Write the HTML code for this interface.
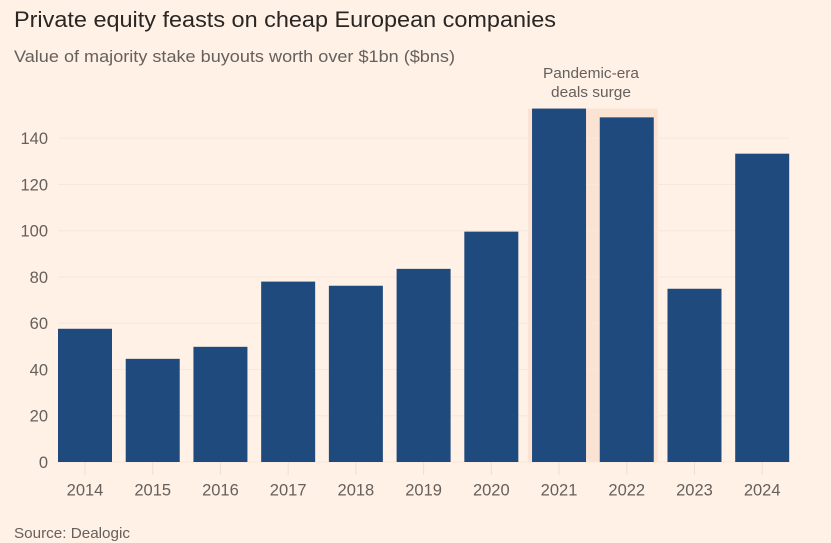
<!DOCTYPE html>
<html>
<head>
<meta charset="utf-8">
<title>Private equity feasts on cheap European companies</title>
<style>
html,body{margin:0;padding:0;background:#fff1e5;}
svg{display:block;font-family:"Liberation Sans",sans-serif;filter:blur(0.35px);}
</style>
</head>
<body>
<svg id="chart" width="831" height="543" viewBox="0 0 831 543" xmlns="http://www.w3.org/2000/svg">
  <rect x="0" y="0" width="831" height="543" fill="#fff1e5"/>
  <text x="14" y="27" font-size="22" fill="#2a2624" textLength="542" lengthAdjust="spacingAndGlyphs">Private equity feasts on cheap European companies</text>
  <text x="14" y="62" font-size="16.5" fill="#66605c" textLength="441" lengthAdjust="spacingAndGlyphs">Value of majority stake buyouts worth over $1bn ($bns)</text>
  <g id="highlight-layer"></g>
  <g id="grid-layer"></g>
  <g id="tick-layer"></g>
  <g id="bar-layer"></g>
  <text x="591" y="78" font-size="14.5" fill="#66605c" text-anchor="middle" textLength="96" lengthAdjust="spacingAndGlyphs">Pandemic-era</text>
  <text x="591" y="97" font-size="14.5" fill="#66605c" text-anchor="middle" textLength="80" lengthAdjust="spacingAndGlyphs">deals surge</text>
  <text x="14" y="538" font-size="15" fill="#66605c" textLength="116" lengthAdjust="spacingAndGlyphs">Source: Dealogic</text>
</svg>
<script>
const categories = ['2014','2015','2016','2017','2018','2019','2020','2021','2022','2023','2024'];
const dealValues = [57.6,44.6,49.8,78,76.2,83.5,99.6,152.8,149,74.9,133.3];
const yTicks = [0,20,40,60,80,100,120,140];
const highlightYears = ['2021','2022'];

const NS = 'http://www.w3.org/2000/svg';
const plot = {left:58, right:790, base:462, unit:2.313, step:67.72, first:85, barWidth:54, bandPad:4};
function yScale(v){ return plot.base - v * plot.unit; }
function xScale(i){ return plot.first + i * plot.step; }
function make(tag, attrs, parent){
  const el = document.createElementNS(NS, tag);
  Object.keys(attrs).forEach(function(k){ el.setAttribute(k, attrs[k]); });
  parent.appendChild(el);
  return el;
}
const highlightLayer = document.getElementById('highlight-layer');
const gridLayer = document.getElementById('grid-layer');
const tickLayer = document.getElementById('tick-layer');
const barLayer = document.getElementById('bar-layer');

const hlIdx = highlightYears.map(function(y){ return categories.indexOf(y); });
const hlTop = yScale(Math.max.apply(null, hlIdx.map(function(i){ return dealValues[i]; })));
const hlLeft = xScale(hlIdx[0]) - plot.barWidth / 2 - plot.bandPad;
const hlRight = xScale(hlIdx[hlIdx.length - 1]) + plot.barWidth / 2 + plot.bandPad;
const band = make('rect', {x:hlLeft, y:hlTop, width:hlRight - hlLeft, height:plot.base - hlTop, fill:'#fbe3d3'}, highlightLayer);



yTicks.forEach(function(t){
  const y = yScale(t);
  const line = make('line', {x1:plot.left, x2:plot.right, y1:y, y2:y, stroke:'#f8e8dc', 'stroke-width':1}, gridLayer);
  
  
  const label = make('text', {x:48, y:y + 6, 'text-anchor':'end', 'font-size':16.5, fill:'#66605c'}, tickLayer);
  
  
  label.textContent = String(t);
});

categories.forEach(function(c, i){
  const x = xScale(i);
  const tick = make('line', {x1:x, x2:x, y1:plot.base, y2:plot.base + 13, stroke:'#ecdfd4', 'stroke-width':1}, tickLayer);
  
  
  const label = make('text', {x:x, y:495.5, 'text-anchor':'middle', 'font-size':16.5, fill:'#66605c'}, tickLayer);
  
  
  label.textContent = c;
  const top = yScale(dealValues[i]);
  const bar = make('rect', {x:x - plot.barWidth / 2, y:top, width:plot.barWidth, height:plot.base - top, fill:'#1f4a7e'}, barLayer);
  
  
});
</script>
</body>
</html>
